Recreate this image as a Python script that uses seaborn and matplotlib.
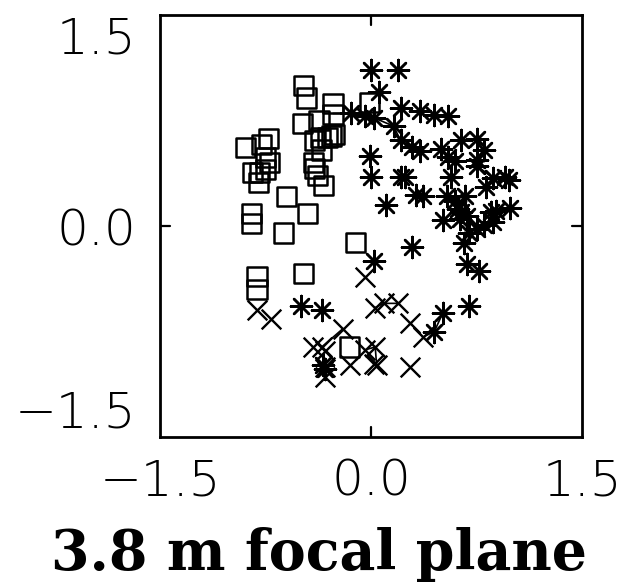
import matplotlib
matplotlib.use("Agg")
import matplotlib.pyplot as plt
import seaborn as sns
import pandas as pd

# ---- data ----
sq_x = [-0.48, -0.46, -0.27, -0.27, -0.49, -0.37, -0.36, -0.31, -0.40, -0.28,
        -0.26, -0.35, -0.40, -0.38, -0.34, -0.41, -0.89, -0.73, -0.78, -0.72,
        -0.75, -0.79, -0.84, -0.75, -0.80, -0.60, -0.85, -0.85, -0.45, -0.62,
        -0.11, -0.48, -0.81, -0.81, -0.15, -0.01]
sq_y = [1.00, 0.91, 0.87, 0.79, 0.73, 0.75, 0.63, 0.63, 0.61, 0.64,
        0.65, 0.54, 0.41, 0.36, 0.29, 0.45, 0.56, 0.62, 0.58, 0.45,
        0.49, 0.38, 0.38, 0.40, 0.31, 0.21, 0.09, 0.02, 0.09, -0.05,
        -0.12, -0.34, -0.36, -0.45, -0.86, 0.88]

st_x = [0.00, 0.19, 0.06, -0.14, -0.04, 0.02, 0.21, 0.35, 0.45, 0.55,
        0.16, 0.21, 0.29, 0.35, 0.50, 0.55, -0.01, 0.00, 0.21, 0.24,
        0.32, 0.37, 0.11, 0.29, 0.02, 0.54, 0.51, 0.57, 0.64, 0.75,
        0.80, 0.75, 0.60, 0.75, 0.82, 0.87, 0.95, 0.98, 0.67, 0.60,
        0.62, 0.99, 0.89, 0.85, 0.64, 0.66, 0.68, 0.77, 0.70, 0.75,
        0.80, 0.87, 0.70, 0.63, 0.68, -0.50, -0.35, -0.34, -0.33, 0.51,
        0.45]
st_y = [1.11, 1.11, 0.95, 0.80, 0.78, 0.77, 0.84, 0.82, 0.79, 0.78,
        0.71, 0.61, 0.56, 0.53, 0.55, 0.49, 0.50, 0.35, 0.35, 0.35,
        0.22, 0.21, 0.15, -0.15, -0.25, 0.21, 0.04, 0.35, 0.61, 0.62,
        0.54, 0.47, 0.46, 0.43, 0.28, 0.34, 0.35, 0.33, 0.21, 0.18,
        0.12, 0.13, 0.11, 0.10, 0.10, -0.12, -0.27, -0.32, -0.57, -0.02,
        0.01, 0.03, -0.05, 0.05, 0.07, -0.57, -0.60, -0.99, -1.02, -0.62,
        -0.75]

cr_x = [-0.04, -0.81, -0.71, 0.03, 0.09, 0.19, 0.28, 0.37, -0.20, -0.41,
        -0.35, -0.33, -0.33, -0.15, -0.04, 0.03, 0.02, 0.04, 0.28, -0.33]
cr_y = [-0.36, -0.60, -0.66, -0.58, -0.55, -0.55, -0.69, -0.79, -0.73, -0.86,
        -0.86, -0.89, -1.07, -0.99, -0.88, -0.86, -0.98, -0.99, -1.00, -1.00]

# thin connecting tracks
tr_id = [1, 1, 1, 1, 1, 1, 1, 1,
         2, 2, 2, 2,
         3, 3, 3,
         4, 4, 4, 4,
         5, 5,
         6, 6, 6]
tr_x = [-0.27, -0.14, -0.04, 0.02, 0.16, 0.21, 0.29, 0.35,
        0.75, 0.80, 0.75, 0.87,
        0.03, 0.09, 0.19,
        0.28, 0.37, 0.45, 0.51,
        -0.20, -0.35,
        -0.04, 0.03, 0.04]
tr_y = [0.80, 0.80, 0.78, 0.77, 0.71, 0.61, 0.56, 0.53,
        0.62, 0.54, 0.43, 0.34,
        -0.58, -0.55, -0.55,
        -0.69, -0.79, -0.75, -0.62,
        -0.73, -0.86,
        -0.88, -0.86, -0.99]

tick_vals = [-1.5, 0.0, 1.5]
tick_labels = ["\u22121.5", "0.0", "1.5"]
xlabel = "3.8 m focal plane"

# ---- plot ----
sns.set_theme(style="white")
plt.rcParams["font.family"] = ["DejaVu Sans"]

fig = plt.figure(figsize=(6.37, 5.84), dpi=100)
W, H = 637, 584
ax = fig.add_axes([160 / W, 1 - 437 / H, 422 / W, 422 / H])

sq = pd.DataFrame({"x": sq_x, "y": sq_y})
st = pd.DataFrame({"x": st_x, "y": st_y})
cr = pd.DataFrame({"x": cr_x, "y": cr_y})
tr = pd.DataFrame({"x": tr_x, "y": tr_y, "track": tr_id})

sns.lineplot(data=tr, x="x", y="y", units="track", estimator=None, sort=False,
             color="black", lw=1.2, ax=ax, legend=False)
sns.scatterplot(data=sq, x="x", y="y", marker="s", s=190, facecolor="none",
                edgecolor="black", linewidth=1.8, ax=ax, legend=False)
sns.scatterplot(data=st, x="x", y="y", marker=(8, 2, 0), s=230, color="black",
                linewidth=1.8, ax=ax, legend=False)
sns.scatterplot(data=cr, x="x", y="y", marker="x", s=200, color="black",
                linewidth=1.7, ax=ax, legend=False)

ax.set_xlim(-1.5, 1.5)
ax.set_ylim(-1.5, 1.5)
ax.set_xlabel("")
ax.set_ylabel("")
for sp in ax.spines.values():
    sp.set_color("black")
    sp.set_linewidth(2.0)

ax.set_xticks(tick_vals)
ax.set_yticks(tick_vals)
ax.set_xticklabels(tick_labels)
ax.set_yticklabels(tick_labels)
ax.tick_params(axis="both", which="both", direction="in", length=0,
               labelsize=36, colors="black", pad=17)
ax.tick_params(axis="x", pad=15)
for lab in ax.get_xticklabels() + ax.get_yticklabels():
    lab.set_fontweight("light")
yl = ax.get_yticklabels()
yl[0].set_va("bottom")
yl[2].set_va("top")

# small inward ticks at zero on all four sides
ax.plot([0, 0], [-1.5, -1.5 + 0.07], color="black", lw=1.6)
ax.plot([0, 0], [1.5, 1.5 - 0.07], color="black", lw=1.6)
ax.plot([-1.5, -1.5 + 0.07], [0, 0], color="black", lw=1.6)
ax.plot([1.5, 1.5 - 0.07], [0, 0], color="black", lw=1.6)

fig.text(319 / W, 1 - 570 / H, xlabel, ha="center", va="baseline",
         fontsize=40, fontweight="bold", family=["DejaVu Serif"], color="black")

fig.savefig("out.png", dpi=100, facecolor="white")
